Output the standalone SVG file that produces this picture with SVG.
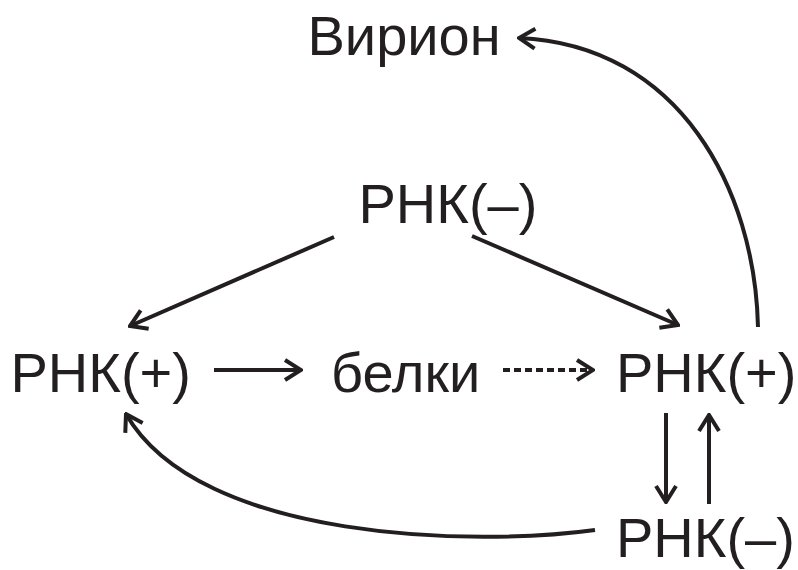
<svg xmlns="http://www.w3.org/2000/svg" width="798" height="570" viewBox="0 0 798 570">
<defs>
<style>
.t{font-family:"Liberation Sans",Arial,sans-serif;font-size:56px;fill:#231f20}
.c{fill:none;stroke:#231f20;stroke-width:4}
.d{stroke-dasharray:7 4}
</style>
<marker id="h" viewBox="-20 -12 22 24" markerWidth="22" markerHeight="24" refX="0" refY="0" orient="auto" markerUnits="userSpaceOnUse">
<path d="M-16,-10 L0,0 L-16,10" fill="none" stroke="#231f20" stroke-width="4"/>
</marker>
</defs>
<rect width="798" height="570" fill="#fff"/>
<g id="virion"><text class="t" x="307.5" y="55">Вирион</text></g>
<g id="rna-minus-top"><text class="t" x="358.5" y="223">РНК(–)</text></g>
<g id="rna-plus-left"><text class="t" x="10.5" y="392">РНК(+)</text></g>
<g id="proteins"><text class="t" x="331" y="392">белки</text></g>
<g id="rna-plus-right"><text class="t" x="616" y="392">РНК(+)</text></g>
<g id="rna-minus-bottom"><text class="t" x="616" y="557">РНК(–)</text></g>
<g id="connectors">
<path class="c" d="M334,237 L130,326" marker-end="url(#h)"/>
<path class="c" d="M472,236 L678,325" marker-end="url(#h)"/>
<path class="c" d="M214,370 L301,370" marker-end="url(#h)"/>
<path class="c d" d="M503,370 L593,370" marker-end="url(#h)"/>
<path class="c" d="M666,413 L666,502" marker-end="url(#h)"/>
<path class="c" d="M709,504 L709,415" marker-end="url(#h)"/>
<path class="c" d="M595,530 C480,546 200,543 126,414" marker-end="url(#h)"/>
<path class="c" d="M758,327 C755,190 680,45 519,38" marker-end="url(#h)"/>
</g>
</svg>
